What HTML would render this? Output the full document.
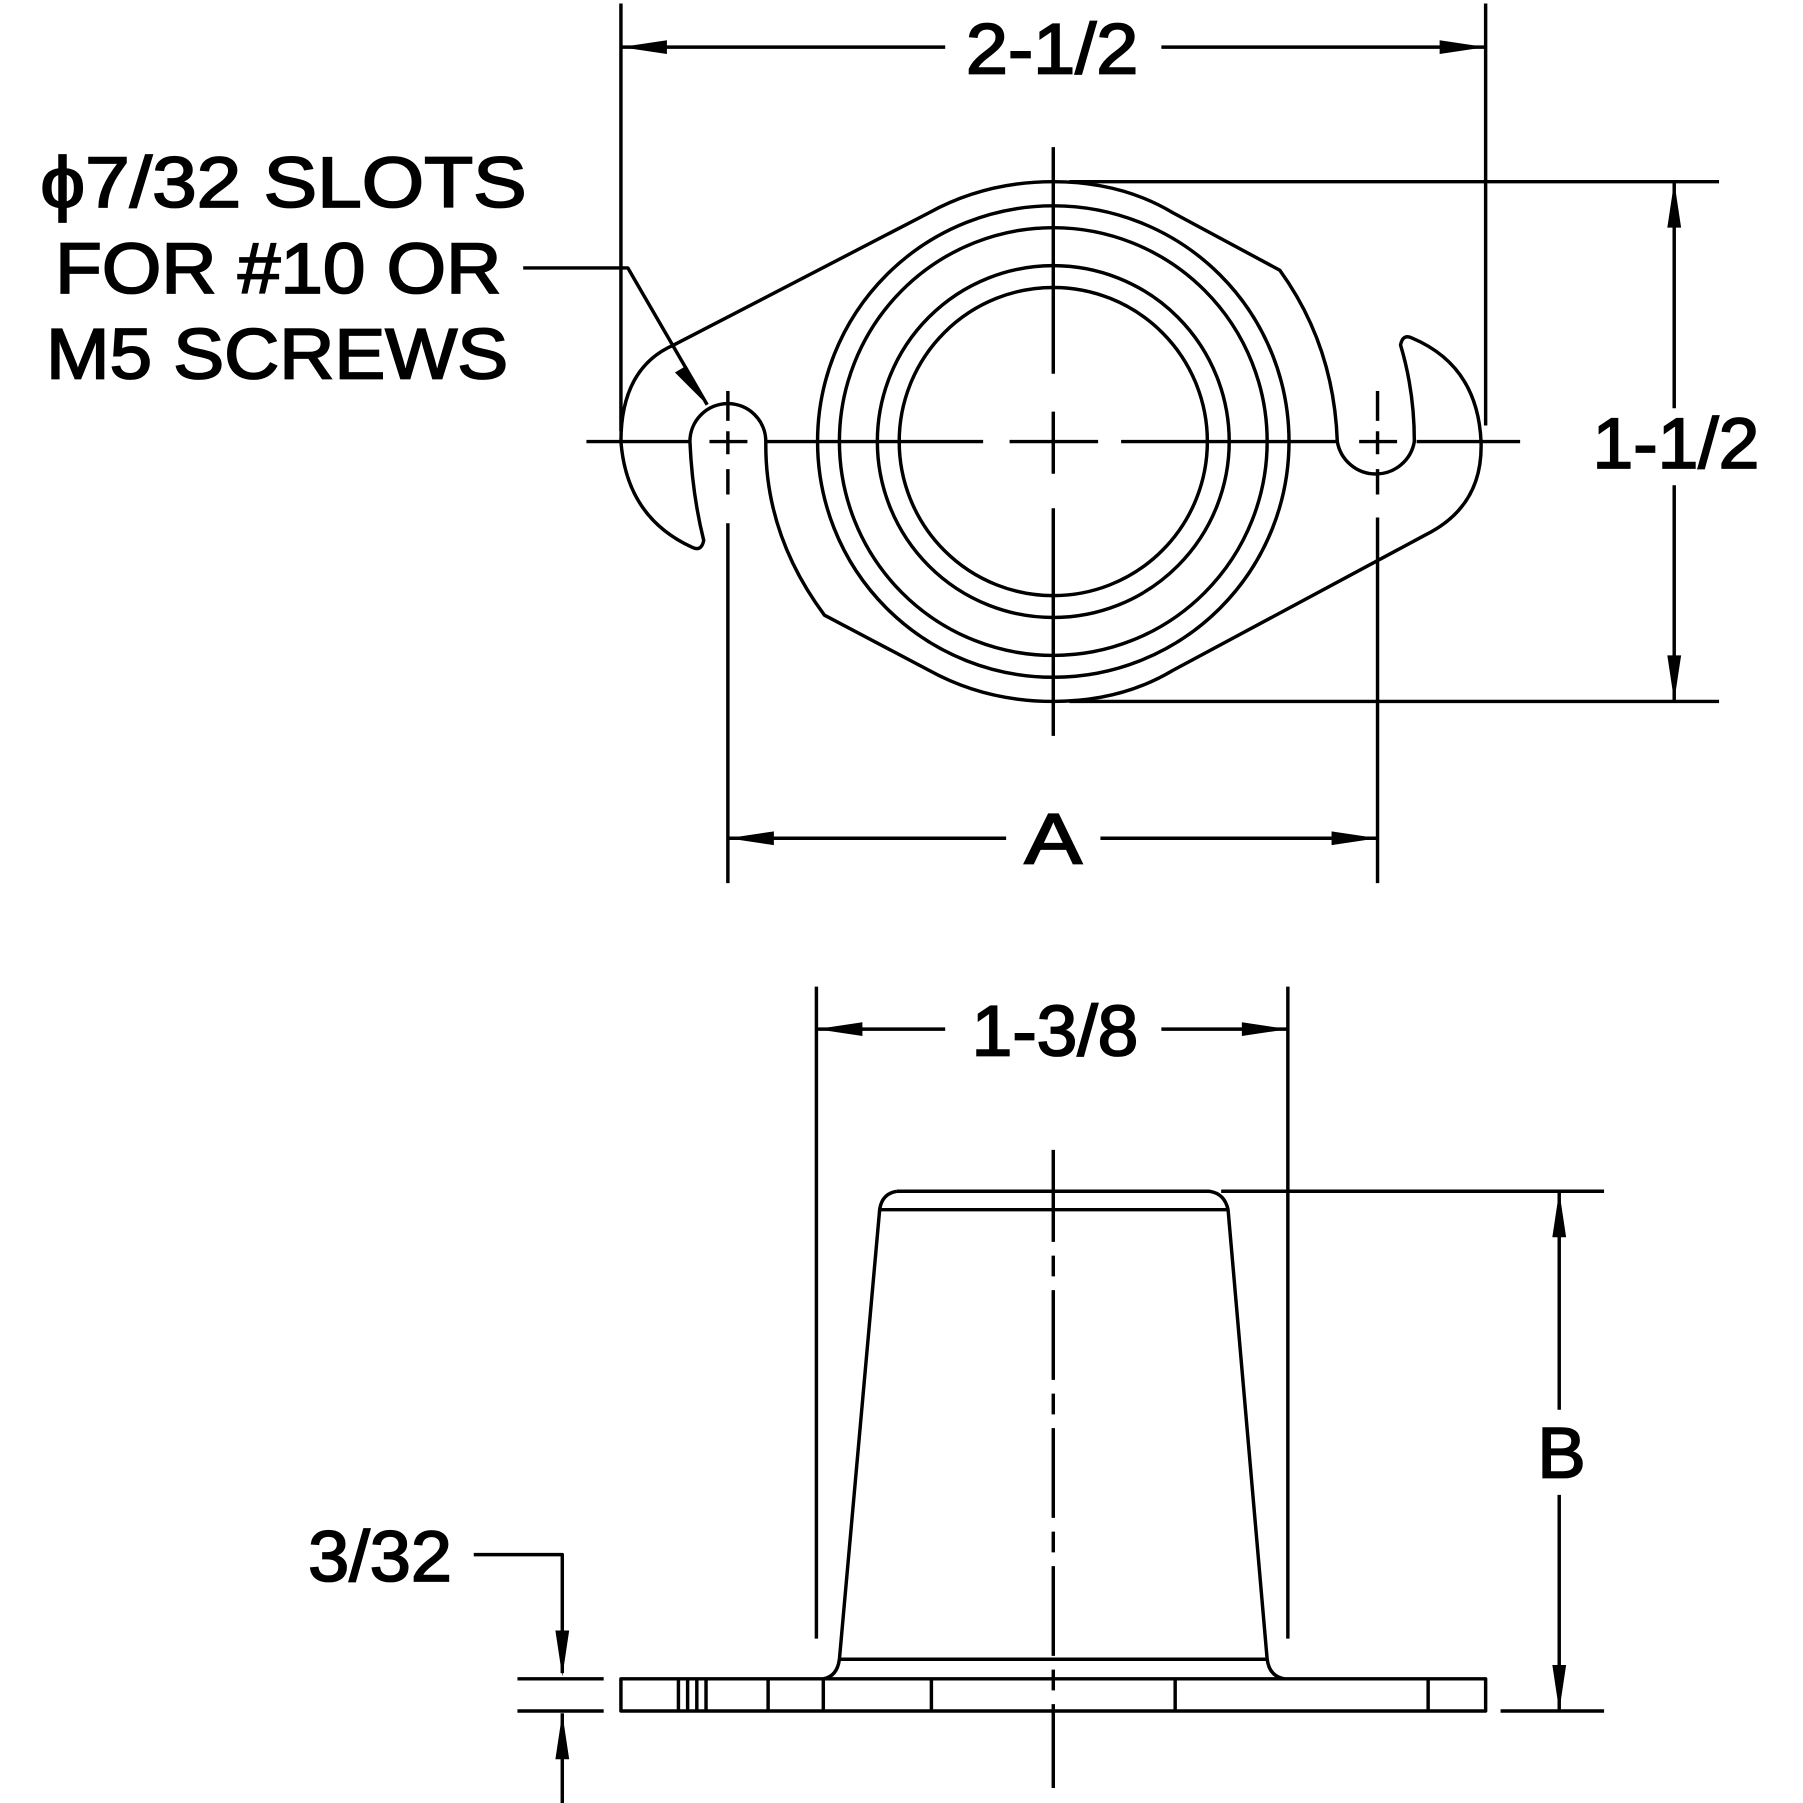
<!DOCTYPE html>
<html><head><style>html,body{margin:0;padding:0;background:#fff}svg{display:block}</style></head><body>
<svg width="1803" height="1803" viewBox="0 0 1568 1568" xmlns="http://www.w3.org/2000/svg">
<g fill="none" stroke="#000" stroke-width="3" stroke-linejoin="round">
<circle cx="916" cy="384" r="205"/>
<circle cx="916" cy="384" r="186"/>
<circle cx="916" cy="384" r="153"/>
<circle cx="916" cy="384" r="134"/>
<path d="M916,158 Q975,158 1020,185 L1113,235 Q1160,300 1163,384 A34,34 0 0 0 1230,384 Q1230,340 1218,300 Q1220,290 1228,294 Q1285,318 1288,384 Q1290,440 1240,465 L1020,583 Q975,610 916,610 Q857,610 808,583 L717,535 Q665,465 666,384 A33,33 0 0 0 600,384 Q602,430 612,470 Q610,480 602,476 Q545,450 540,384 Q540,320 586,300 L808,185 Q857,158 916,158"/>
<path d="M510,384 H600 M666,384 H855 M878,384 H955 M975,384 H1163 M1232,384 H1322"/>
<path d="M916,128 V325 M916,358 V412 M916,442 V640"/>
<path d="M633,340 V366 M633,375 V395 M633,408 V430 M617,384 H650"/>
<path d="M1198,340 V366 M1198,375 V395 M1198,408 V430 M1182,384 H1215"/>
<path d="M540,3 V375 M1292,3 V370"/>
<path d="M930,158 H1495 M930,610 H1495"/>
<path d="M633,455 V768 M1198,450 V768"/>
<path d="M540,41 H822 M1010,41 H1292"/>
<path d="M1456,158 V355 M1456,422 V610"/>
<path d="M633,729 H875 M957,729 H1198"/>
<path d="M455,233 H546 L615,352"/>
<rect x="540" y="1460" width="752" height="28"/>
<path d="M590,1460 V1488 M598,1460 V1488 M606,1460 V1488 M614,1460 V1488 M668,1460 V1488 M716,1460 V1488 M810,1460 V1488 M1022,1460 V1488 M1242,1460 V1488"/>
<path d="M780,1036 H1052 Q1065,1038 1068,1052 L1102,1443 Q1104,1458 1117,1460 M780,1036 Q767,1038 765,1052 L730,1443 Q728,1458 716,1460"/>
<path d="M765,1052 H1068 M730,1443 H1102"/>
<path d="M916,1000 V1080 M916,1092 V1110 M916,1122 V1200 M916,1212 V1230 M916,1242 V1320 M916,1332 V1350 M916,1362 V1440 M916,1452 V1470 M916,1482 V1555"/>
<path d="M710,858 V1425 M1120,858 V1425"/>
<path d="M710,895 H822 M1010,895 H1120"/>
<path d="M1062,1036 H1395 M1305,1488 H1395"/>
<path d="M1356,1036 V1226 M1356,1300 V1488"/>
<path d="M412,1352 H489 V1455 M450,1460 H525 M450,1488 H525 M489,1490 V1568"/>
</g>
<g fill="#000">
<path d="M540,41 l40,-6 v12z M1292,41 l-40,-6 v12z"/>
<path d="M1456,158 l-6,40 h12z M1456,610 l-6,-40 h12z"/>
<path d="M633,729 l40,-6 v12z M1198,729 l-40,-6 v12z"/>
<path d="M615,352 l-28,-28 l10,-6z"/>
<path d="M710,895 l40,-6 v12z M1120,895 l-40,-6 v12z"/>
<path d="M1356,1036 l-6,40 h12z M1356,1488 l-6,-40 h12z"/>
<path d="M489,1458 l-6,-40 h12z M489,1490 l-6,40 h12z"/>
</g>
<g font-family="'Liberation Sans',sans-serif" font-size="62" fill="#000" stroke="#000" stroke-width="1.6" lengthAdjust="spacingAndGlyphs">
<text x="840" y="64" textLength="150" lengthAdjust="spacingAndGlyphs">2-1/2</text>
<text x="1385" y="407" textLength="145" lengthAdjust="spacingAndGlyphs">1-1/2</text>
<text x="891" y="751" textLength="50" lengthAdjust="spacingAndGlyphs">A</text>
<text x="845" y="918" textLength="145" lengthAdjust="spacingAndGlyphs">1-3/8</text>
<text x="1337" y="1285" textLength="42" lengthAdjust="spacingAndGlyphs">B</text>
<text x="268" y="1375" textLength="125" lengthAdjust="spacingAndGlyphs">3/32</text>
<text x="35" y="180" textLength="423" lengthAdjust="spacingAndGlyphs">ϕ7/32 SLOTS</text>
<text x="48" y="255" textLength="388" lengthAdjust="spacingAndGlyphs">FOR #10 OR</text>
<text x="40" y="329" textLength="402" lengthAdjust="spacingAndGlyphs">M5 SCREWS</text>
</g>
</svg>
</body></html>
